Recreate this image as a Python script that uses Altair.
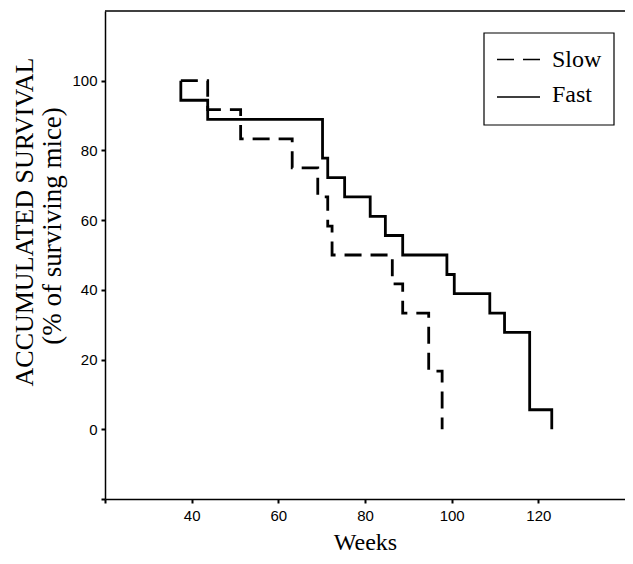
import altair as alt
import pandas as pd

# Step points (week of event, survival % after the event)
fast_weeks = [37.5, 37.5, 43.7, 70.2, 71.4, 75.3, 81.2, 84.7, 88.7, 98.9, 100.6, 108.8, 112.2, 118.0, 123.1]
fast_surv = [100, 94.4, 88.9, 77.8, 72.2, 66.7, 61.1, 55.6, 50.0, 44.4, 38.9, 33.3, 27.8, 5.6, 0]

slow_weeks = [37.5, 43.7, 51.3, 63.2, 69.1, 71.4, 72.4, 86.3, 88.7, 94.7, 97.8]
slow_surv = [100, 91.7, 83.3, 75.0, 66.7, 58.3, 50.0, 41.7, 33.3, 16.7, 0]

groups = ["Slow", "Fast"]
x_ticks = [20, 40, 60, 80, 100, 120]
y_ticks = [-20, 0, 20, 40, 60, 80, 100]
y_title = ["ACCUMULATED SURVIVAL", "(% of surviving mice)"]
x_title = "Weeks"

rows = []
for i, (w, s) in enumerate(zip(slow_weeks, slow_surv)):
    rows.append({"group": "Slow", "week": w, "surv": s, "idx": i})
for i, (w, s) in enumerate(zip(fast_weeks, fast_surv)):
    rows.append({"group": "Fast", "week": w, "surv": s, "idx": i})
df = pd.DataFrame(rows)

xscale = alt.Scale(domain=[20, 140], nice=False, zero=False)
yscale = alt.Scale(domain=[-20, 120], nice=False, zero=False)
dash_scale = alt.Scale(domain=groups, range=[[17, 9], [1, 0]])

lines = alt.Chart(df).mark_line(
    interpolate="step-after", color="black", strokeWidth=2.8, strokeCap="butt"
).encode(
    x=alt.X("week:Q", scale=xscale, axis=alt.Axis(
        values=x_ticks,
        labelExpr="datum.value < 30 ? '' : datum.label",
        title=x_title,
        titleFont="Liberation Serif", titleFontSize=24, titleFontWeight="normal",
        titleColor="black", titleY=50, titleBaseline="alphabetic",
        labelFont="Liberation Sans", labelFontSize=15, labelColor="black",
        labelPadding=5, tickSize=4, tickWidth=2, tickColor="black",
        domainColor="black", domainWidth=1.5, grid=False,
    )),
    y=alt.Y("surv:Q", scale=yscale, axis=alt.Axis(
        values=y_ticks,
        labelExpr="datum.value < 0 ? '' : datum.label",
        title=None,
        labelFont="Liberation Sans", labelFontSize=15, labelColor="black",
        labelPadding=4, tickSize=4, tickWidth=2, tickColor="black",
        domainColor="black", domainWidth=1.5, grid=False,
    )),
    strokeDash=alt.StrokeDash("group:N", scale=dash_scale, legend=None),
    order="idx:Q",
)

top_frame = alt.Chart(pd.DataFrame({"v": [120]})).mark_rule(
    color="black", strokeWidth=1.5
).encode(y=alt.Y("v:Q", scale=yscale))

# Y-axis title (two lines)
ytitle1 = alt.Chart(pd.DataFrame({"t": [y_title[0]]})).mark_text(
    angle=270, font="Liberation Serif", fontSize=26, color="black",
    align="center", baseline="middle"
).encode(text="t:N", x=alt.value(-80), y=alt.value(211))
ytitle2 = alt.Chart(pd.DataFrame({"t": [y_title[1]]})).mark_text(
    angle=270, font="Liberation Serif", fontSize=27, color="black",
    align="center", baseline="middle"
).encode(text="t:N", x=alt.value(-52), y=alt.value(215))

# Legend (drawn by hand to match the boxed style)
leg_box = alt.Chart(pd.DataFrame({"k": [0]})).mark_rect(
    fill="white", stroke="black", strokeWidth=1.2
).encode(x=alt.value(379), x2=alt.value(509), y=alt.value(22), y2=alt.value(114))

leg_slow = alt.Chart(pd.DataFrame({"group": [groups[0]]})).mark_rule(
    color="black", strokeWidth=1.5
).encode(x=alt.value(392), x2=alt.value(435), y=alt.value(48.5),
         strokeDash=alt.StrokeDash("group:N", scale=dash_scale, legend=None))
leg_fast = alt.Chart(pd.DataFrame({"group": [groups[1]]})).mark_rule(
    color="black", strokeWidth=1.5
).encode(x=alt.value(392), x2=alt.value(435), y=alt.value(86),
         strokeDash=alt.StrokeDash("group:N", scale=dash_scale, legend=None))

leg_text1 = alt.Chart(pd.DataFrame({"group": [groups[0]]})).mark_text(
    font="Liberation Serif", fontSize=24, color="black", align="left", baseline="alphabetic"
).encode(text="group:N", x=alt.value(447), y=alt.value(56))
leg_text2 = alt.Chart(pd.DataFrame({"group": [groups[1]]})).mark_text(
    font="Liberation Serif", fontSize=24, color="black", align="left", baseline="alphabetic"
).encode(text="group:N", x=alt.value(447), y=alt.value(91))

chart = alt.layer(
    top_frame, lines, ytitle1, ytitle2, leg_box, leg_slow, leg_fast, leg_text1, leg_text2
).properties(
    width=520, height=488,
    padding={"left": 97, "top": 3, "right": 0, "bottom": 56},
    autosize=alt.AutoSizeParams(type="none"),
    background="white",
).configure_view(stroke=None)

chart.save("out.html", embed_options={"renderer": "svg", "actions": False})
